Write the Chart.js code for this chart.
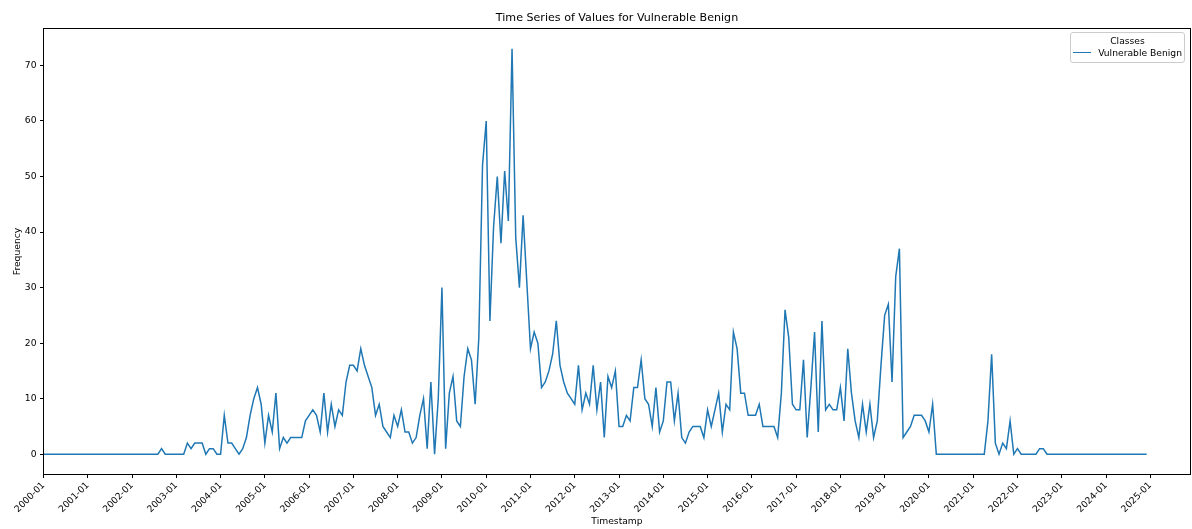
<!DOCTYPE html>
<html>
<head>
<meta charset="utf-8">
<title>Time Series of Values for Vulnerable Benign</title>
<script src="https://cdn.jsdelivr.net/npm/chart.js@4.4.1/dist/chart.umd.min.js"></script>
<style>
  html, body { margin: 0; padding: 0; background: #fff; }
  #wrap { position: relative; width: 1192px; height: 529px; overflow: hidden; }
  #chart { display: block; }
  .legend {
    position: absolute; left: 1070px; top: 32px; width: 115px; height: 31px;
    box-sizing: border-box; border: 1px solid #cccccc; border-radius: 3px;
    background: rgba(255,255,255,0.8);
    font-family: 'DejaVu Sans', sans-serif; font-size: 9.2px; color: #000;
    padding: 1.5px 2px 0 2px;
  }
  .legend .ttl { text-align: center; line-height: 11px; white-space: nowrap; }
  .legend .row { display: flex; align-items: center; line-height: 11px; margin-top: 1.6px; white-space: nowrap; }
  .legend .swatch { width: 20px; height: 0; border-top: 1.5px solid; margin-right: 7px; }
</style>
</head>
<body>
<div id="wrap">
  <canvas id="chart" width="1192" height="529"></canvas>
  <div class="legend" id="legend"></div>
</div>
<script>
// Monthly counts, one row per year starting at 2000-01
const startYear = 2000;
const counts = [
  0, 0, 0, 0, 0, 0, 0, 0, 0, 0, 0, 0,          // 2000
  0, 0, 0, 0, 0, 0, 0, 0, 0, 0, 0, 0,          // 2001
  0, 0, 0, 0, 0, 0, 0, 0, 1, 0, 0, 0,          // 2002
  0, 0, 0, 2, 1, 2, 2, 2, 0, 1, 1, 0,          // 2003
  0, 7, 2, 2, 1, 0, 1, 3, 7, 10, 12, 9,        // 2004
  2, 7, 4, 11, 1, 3, 2, 3, 3, 3, 3, 6,         // 2005
  7, 8, 7, 4, 11, 4, 9, 5, 8, 7, 13, 16,       // 2006
  16, 15, 19, 16, 14, 12, 7, 9, 5, 4, 3, 7,    // 2007
  5, 8, 4, 4, 2, 3, 7, 10, 1, 13, 0, 10,       // 2008
  30, 1, 11, 14, 6, 5, 14, 19, 17, 9, 21, 52,  // 2009
  60, 24, 41, 50, 38, 51, 42, 73, 39, 30, 43, 31, // 2010
  19, 22, 20, 12, 13, 15, 18, 24, 16, 13, 11, 10, // 2011
  9, 16, 8, 11, 9, 16, 8, 13, 3, 14, 12, 15,   // 2012
  5, 5, 7, 6, 12, 12, 17, 10, 9, 5, 12, 4,     // 2013
  6, 13, 13, 6, 11, 3, 2, 4, 5, 5, 5, 3,       // 2014
  8, 5, 8, 11, 4, 9, 8, 22, 19, 11, 11, 7,     // 2015
  7, 7, 9, 5, 5, 5, 5, 3, 11, 26, 21, 9,       // 2016
  8, 8, 17, 3, 12, 22, 4, 24, 8, 9, 8, 8,      // 2017
  12, 6, 19, 11, 6, 3, 9, 4, 9, 3, 6, 16,      // 2018
  25, 27, 13, 32, 37, 3, 4, 5, 7, 7, 7, 6,     // 2019
  4, 9, 0, 0, 0, 0, 0, 0, 0, 0, 0, 0,          // 2020
  0, 0, 0, 0, 6, 18, 2, 0, 2, 1, 6, 0,         // 2021
  1, 0, 0, 0, 0, 0, 1, 1, 0, 0, 0, 0,          // 2022
  0, 0, 0, 0, 0, 0, 0, 0, 0, 0, 0, 0,          // 2023
  0, 0, 0, 0, 0, 0, 0, 0, 0, 0, 0, 0           // 2024
];

const tickLabels = [
  '2000-01', '2001-01', '2002-01', '2003-01', '2004-01', '2005-01', '2006-01',
  '2007-01', '2008-01', '2009-01', '2010-01', '2011-01', '2012-01', '2013-01',
  '2014-01', '2015-01', '2016-01', '2017-01', '2018-01', '2019-01', '2020-01',
  '2021-01', '2022-01', '2023-01', '2024-01', '2025-01'
];
const yTicks = [0, 10, 20, 30, 40, 50, 60, 70];

const seriesName = 'Vulnerable Benign';
const legendTitle = 'Classes';
const chartTitle = 'Time Series of Values for Vulnerable Benign';
const xTitle = 'Timestamp';
const yTitle = 'Frequency';

// month label <-> month index helpers
const monthLabel = v => {
  const y = startYear + Math.floor(v / 12);
  const m = Math.round(v - (y - startYear) * 12) + 1;
  return y + '-' + String(m).padStart(2, '0');
};
const monthIndex = s => (parseInt(s.slice(0, 4), 10) - startYear) * 12 + parseInt(s.slice(5), 10) - 1;
const months = counts.map((_, i) => monthLabel(i));

const FONT = 'DejaVu Sans';
Chart.defaults.font.family = FONT;
Chart.defaults.color = '#000';

const SMALL = 9.2;
const axisGrid = {
  display: true, drawOnChartArea: false, drawTicks: true,
  tickLength: 3.5, color: '#000', lineWidth: 1
};

// full rectangular frame around the plotting area
const framePlugin = {
  id: 'frame',
  afterDatasetsDraw(chart) {
    const { ctx, chartArea: a } = chart;
    ctx.save();
    ctx.strokeStyle = '#000';
    ctx.lineWidth = 1;
    ctx.strokeRect(a.left, a.top, a.right - a.left, a.bottom - a.top);
    ctx.restore();
  }
};

const chart = new Chart(document.getElementById('chart'), {
  type: 'line',
  data: {
    datasets: [{
      label: seriesName,
      data: counts.map((v, i) => ({ x: monthIndex(months[i]), y: v })),
      borderColor: '#1f77b4',
      backgroundColor: '#1f77b4',
      borderWidth: 1.5,
      pointRadius: 0,
      tension: 0,
      fill: false
    }]
  },
  options: {
    responsive: false,
    animation: false,
    devicePixelRatio: 1,
    layout: { padding: { left: 0, right: 1.5, top: 0, bottom: 0 } },
    plugins: {
      legend: { display: false },
      tooltip: { enabled: false },
      title: {
        display: true,
        fullSize: false,
        text: chartTitle,
        color: '#000',
        font: { family: FONT, size: 11.1, weight: 'normal' },
        padding: { top: 11.34, bottom: 3.84 }
      }
    },
    scales: {
      x: {
        type: 'linear',
        min: 0,
        max: 310.9,
        afterBuildTicks: s => { s.ticks = tickLabels.map(l => ({ value: monthIndex(l) })); },
        afterFit: s => { s.height = 54.5; },
        ticks: {
          autoSkip: false, minRotation: 45, maxRotation: 45, padding: 2,
          color: '#000', font: { size: SMALL },
          callback: v => monthLabel(v)
        },
        grid: axisGrid,
        border: { display: false },
        title: { display: true, text: xTitle, color: '#000', font: { size: SMALL }, padding: { top: 0, bottom: 1.8 } }
      },
      y: {
        type: 'linear',
        min: -3.65,
        max: 76.65,
        afterBuildTicks: s => { s.ticks = yTicks.map(v => ({ value: v })); },
        afterFit: s => { s.width = 43.5; },
        ticks: { padding: 3.5, color: '#000', font: { size: SMALL } },
        grid: axisGrid,
        border: { display: false },
        title: { display: true, text: yTitle, color: '#000', font: { size: SMALL }, padding: { top: 12, bottom: 0 } }
      }
    }
  },
  plugins: [framePlugin]
});

// legend box drawn from the chart's datasets
const legendEl = document.getElementById('legend');
const ttl = document.createElement('div');
ttl.className = 'ttl';
ttl.textContent = legendTitle;
legendEl.appendChild(ttl);
chart.data.datasets.forEach(ds => {
  const row = document.createElement('div');
  row.className = 'row';
  const sw = document.createElement('span');
  sw.className = 'swatch';
  sw.style.borderTopColor = ds.borderColor;
  const lab = document.createElement('span');
  lab.textContent = ds.label;
  row.appendChild(sw);
  row.appendChild(lab);
  legendEl.appendChild(row);
});
</script>
</body>
</html>
